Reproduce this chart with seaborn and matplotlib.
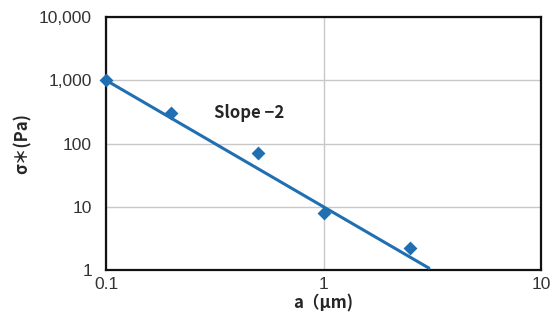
import matplotlib
matplotlib.use("Agg")
import matplotlib.pyplot as plt
import seaborn as sns
import numpy as np
import pandas as pd
from matplotlib.ticker import FixedLocator, FuncFormatter, NullLocator

# data
a_um = [0.1, 0.2, 0.5, 1.0, 2.5]
sigma_pa = [1000, 300, 72, 8, 2.2]
fit_a = [0.1, 3.05]
fit_sigma = [1000, 1000 * (0.1 / 3.05) ** 2]
x_ticks = [0.1, 1, 10]
y_ticks = [1, 10, 100, 1000, 10000]
annotation = "Slope −2"
xlabel = "a（μm)"
ylabel = "σ＊(Pa)"

sns.set_theme(style="white")
plt.rcParams['font.family'] = ['Liberation Sans', 'Noto Sans CJK JP', 'DejaVu Sans']

color = "#1f6fb2"
fig = plt.figure(figsize=(5.55, 3.27), dpi=100)
ax = fig.add_axes([0.191, 0.174, 0.784, 0.774])

df = pd.DataFrame({"a": a_um, "s": sigma_pa})
fit = pd.DataFrame({"a": fit_a, "s": fit_sigma})
ax.set_xscale("log")
ax.set_yscale("log")
sns.lineplot(data=fit, x="a", y="s", ax=ax, color=color, lw=2.2, clip_on=False, zorder=3)
sns.scatterplot(data=df, x="a", y="s", ax=ax, marker="D", s=50, color=color,
                edgecolor=color, linewidth=0, clip_on=False, zorder=4)

ax.set_xlim(0.1, 10)
ax.set_ylim(1, 10000)
ax.xaxis.set_major_locator(FixedLocator(x_ticks))
ax.yaxis.set_major_locator(FixedLocator(y_ticks))
ax.xaxis.set_minor_locator(NullLocator())
ax.yaxis.set_minor_locator(NullLocator())
ax.xaxis.set_major_formatter(FuncFormatter(lambda v, p: f"{v:g}"))
ax.yaxis.set_major_formatter(FuncFormatter(lambda v, p: f"{int(v):,}"))
ax.tick_params(axis="both", length=0, labelsize=12.5, colors="#333333")
ax.tick_params(axis="x", pad=5)
ax.tick_params(axis="y", pad=10)
ax.grid(True, which="major", color="#c8c8c8", lw=1)
for sp in ax.spines.values():
    sp.set_color("#111111")
    sp.set_linewidth(1.6)

ax.set_xlabel(xlabel, fontsize=12, fontweight="bold", family=['Noto Sans CJK JP', 'DejaVu Sans'], labelpad=2)
ax.set_ylabel(ylabel, fontsize=12, fontweight="bold", family=['Noto Sans CJK JP', 'DejaVu Sans'], labelpad=5)

ax.text(0.315, 300, annotation, fontsize=12, fontweight="bold", va="center", ha="left",
        family=['Noto Sans CJK JP', 'DejaVu Sans'])

fig.savefig("out.png", dpi=100)
